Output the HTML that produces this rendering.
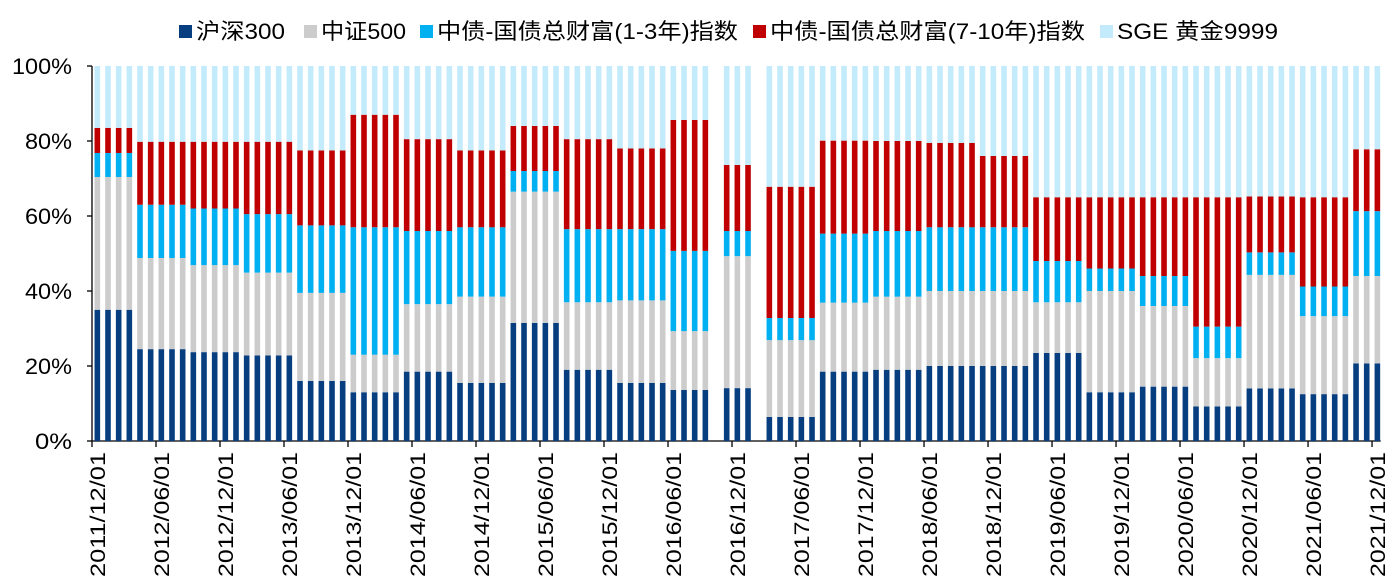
<!DOCTYPE html>
<html><head><meta charset="utf-8"><style>
html,body{margin:0;padding:0;background:#fff;}
svg{display:block;font-family:"Liberation Sans","Noto Sans CJK SC",sans-serif;}
</style></head><body>
<svg id="chart" width="1398" height="588" viewBox="0 0 1398 588">
<g id="legend"></g>
<g id="grid"></g>
<g id="bars"></g>
<g id="labels"></g>
</svg>
<script>
const seriesNames = ["沪深300","中证500","中债-国债总财富(1-3年)指数","中债-国债总财富(7-10年)指数","SGE 黄金9999"];
const seriesColors = ["#063e80","#cccccc","#00b0f0","#c00000","#c3ebfb"];
// blocks: [startIndex, endIndex] (monthly, 2011/12..2021/12)
const blockStart = [0,4,9,14,19,24,29,34,39,44,49,54,59,63,68,73,78,83,88,93,98,103,108,113,118];
const blockEnd   = [3,8,13,18,23,28,33,38,43,48,53,57,61,67,72,77,82,87,92,97,102,107,112,117,120];
const hs300  = [35,24.5,23.7,22.8,16,13,18.5,15.5,31.5,19,15.5,13.6,14.1,6.4,18.5,19,20,20,23.5,13,14.5,9.2,14,12.5,20.7];
const zz500  = [35.4,24.3,23.2,22.1,23.5,10,18,23,35,18,22,15.7,35.2,20.5,18.4,19.5,20,20,13.5,27,21.5,12.9,30.3,20.8,23.3];
const bond13 = [6.4,14.2,15.1,15.6,18,34,19.5,18.5,5.5,19.5,19,21.4,6.7,5.9,18.4,17.5,17,17,11,6,8,8.4,6,7.9,17.3];
const bond710= [6.7,16.8,17.8,19.3,20,30,24.5,20.5,12,24,21.5,34.9,17.6,35,24.8,24,22.5,19,17,19,21,34.5,14.9,23.8,16.5];
const nSlots = 121;
const tickLabels = ["2011/12/01","2012/06/01","2012/12/01","2013/06/01","2013/12/01","2014/06/01","2014/12/01","2015/06/01","2015/12/01","2016/06/01","2016/12/01","2017/06/01","2017/12/01","2018/06/01","2018/12/01","2019/06/01","2019/12/01","2020/06/01","2020/12/01","2021/06/01","2021/12/01"];
const yTicks = [0,20,40,60,80,100];

const NS="http://www.w3.org/2000/svg";
const X0=92, SLOT=10.667, BW=5.6, Y0=441, YH=375;
const xs = i => X0 + i*SLOT;
const ys = v => Y0 - v/100*YH;
function mk(tag, attrs, parent){const e=document.createElementNS(NS,tag);for(const k in attrs)e.setAttribute(k,attrs[k]);parent.appendChild(e);return e;}

// legend
const lg=document.getElementById('legend');
const legX=[179,304,420,753,1100];
const legW=[89,85,301,315,161];
seriesNames.forEach((n,i)=>{
  const g=mk('g',{},lg);
  
  
  mk('rect',{x:legX[i],y:25,width:13,height:13,fill:seriesColors[i]},g);
  const t=mk('text',{x:legX[i]+17,y:39,'font-size':22,fill:'#000',textLength:legW[i],lengthAdjust:'spacingAndGlyphs'},g);
  t.textContent=n;
});

// bars
const bg=document.getElementById('bars');
for(let b=0;b<blockStart.length;b++){
  const vals=[hs300[b],zz500[b],bond13[b],bond710[b]];
  for(let i=blockStart[b];i<=blockEnd[b];i++){
    let cum=0;
    const tops=[];
    for(let s=0;s<4;s++){cum+=vals[s];tops.push(cum);}
    tops.push(100);
    let prev=0;
    for(let s=0;s<5;s++){
      const r=mk('rect',{x:(xs(i)+(SLOT-BW)/2).toFixed(2),y:ys(tops[s]).toFixed(2),width:BW,height:(ys(prev)-ys(tops[s])).toFixed(2),fill:seriesColors[s]},bg);
      
      
      prev=tops[s];
    }
  }
}

// axes
const gr=document.getElementById('grid');
mk('line',{x1:X0,y1:ys(100),x2:X0,y2:Y0,stroke:'#000','stroke-width':1.3},gr);
mk('line',{x1:X0,y1:Y0,x2:xs(nSlots)-2,y2:Y0,stroke:'#000','stroke-width':1.3},gr);
yTicks.forEach(v=>{
  mk('line',{x1:X0-5,y1:ys(v),x2:X0,y2:ys(v),stroke:'#000','stroke-width':1.3},gr);
  const t=mk('text',{x:72,y:ys(v)+8,'font-size':22,'text-anchor':'end',fill:'#000',textLength:(v===100?60:(v===0?37:47)),lengthAdjust:'spacingAndGlyphs'},gr);
  
  
  t.textContent=v+'%';
});
const lb=document.getElementById('labels');
tickLabels.forEach((s,k)=>{
  const i=k*6;
  mk('line',{x1:xs(i),y1:Y0,x2:xs(i),y2:Y0+6,stroke:'#000','stroke-width':1.3},gr);
  const cx=xs(i)+SLOT/2+7.5;
  const t=mk('text',{x:cx,y:452,'font-size':21,'text-anchor':'end',transform:`rotate(-90 ${cx} 452)`,fill:'#000',textLength:125,lengthAdjust:'spacingAndGlyphs'},lb);
  
  
  t.textContent=s;
});
</script>
</body></html>
